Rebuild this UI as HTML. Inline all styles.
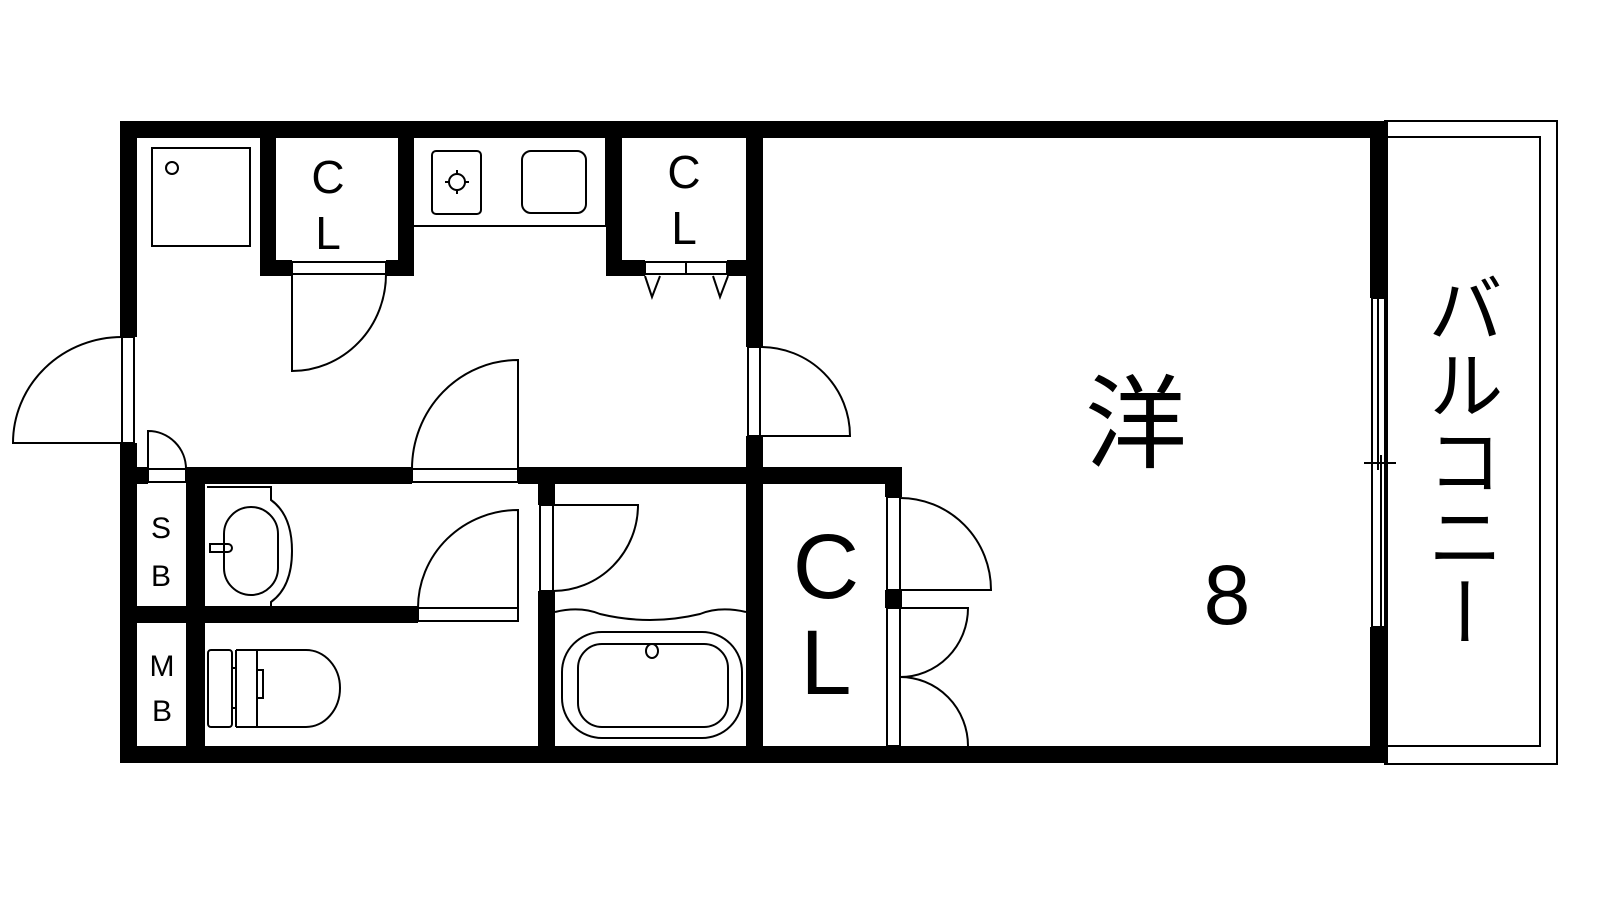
<!DOCTYPE html>
<html><head><meta charset="utf-8"><style>
html,body{margin:0;padding:0;background:#fff;width:1600px;height:900px;overflow:hidden}
svg text{font-family:"Liberation Sans","Noto Sans CJK JP",sans-serif;fill:#000}
</style></head><body>
<svg width="1600" height="900" viewBox="0 0 1600 900" xmlns="http://www.w3.org/2000/svg">
<g fill="none" stroke="#000" stroke-width="2">
<!-- balcony -->
<rect x="1385" y="121" width="172" height="643"/>
<rect x="1387" y="137" width="153" height="609"/>
</g>
<!-- walls -->
<g fill="#000">
<rect x="120" y="121" width="1268" height="17"/>
<rect x="120" y="746" width="1268" height="17"/>
<rect x="120" y="121" width="17" height="216"/>
<rect x="120" y="443" width="17" height="320"/>
<rect x="1370" y="121" width="18" height="177"/>
<rect x="1370" y="627" width="18" height="136"/>
<!-- top-left CL -->
<rect x="260" y="121" width="16" height="155"/>
<rect x="398" y="121" width="16" height="155"/>
<rect x="260" y="260" width="32" height="16"/>
<rect x="386" y="260" width="28" height="16"/>
<!-- right CL -->
<rect x="606" y="121" width="16" height="155"/>
<rect x="606" y="260" width="39" height="16"/>
<rect x="727" y="260" width="36" height="16"/>
<!-- wall to room -->
<rect x="746" y="121" width="17" height="226"/>
<rect x="746" y="436" width="17" height="327"/>
<!-- horizontal wall y467 -->
<rect x="120" y="467" width="28" height="17"/>
<rect x="186" y="467" width="226" height="17"/>
<rect x="518" y="467" width="384" height="17"/>
<rect x="885" y="467" width="17" height="30"/>
<rect x="885" y="590" width="17" height="18"/>
<!-- lower -->
<rect x="186" y="484" width="19" height="262"/>
<rect x="137" y="606" width="281" height="17"/>
<rect x="538" y="484" width="17" height="21"/>
<rect x="538" y="591" width="17" height="155"/>
</g>
<g fill="#fff" stroke="#000" stroke-width="2">
<!-- door frames -->
<rect x="122" y="337" width="12" height="106"/>
<rect x="292" y="262" width="94" height="12"/>
<rect x="645" y="262" width="41" height="12"/>
<rect x="686" y="262" width="41" height="12"/>
<rect x="748" y="347" width="12" height="89"/>
<rect x="148" y="469" width="38" height="13"/>
<rect x="412" y="469" width="106" height="13"/>
<rect x="418" y="608" width="100" height="13"/>
<rect x="540" y="505" width="13" height="86"/>
<rect x="887" y="497" width="13" height="93"/>
<rect x="887" y="608" width="13" height="138"/>
<rect x="1372" y="298" width="13" height="329"/>
</g>
<g fill="none" stroke="#000" stroke-width="2">
<line x1="1378" y1="298" x2="1378" y2="470"/>
<line x1="1381" y1="455" x2="1381" y2="627"/>
<line x1="1364" y1="463" x2="1396" y2="463"/>
<!-- door swings -->
<path d="M122 443 L13 443 A109 106 0 0 1 122 337"/>
<path d="M292 274 L292 371 A94 97 0 0 0 386 274"/>
<path d="M761 436 L850 436 A89 89 0 0 0 761 347"/>
<path d="M148 469 L148 431 A38 38 0 0 1 186 469"/>
<path d="M518 469 L518 360 A106 109 0 0 0 412 469"/>
<path d="M518 608 L518 510 A100 98 0 0 0 418 608"/>
<path d="M553 505 L638 505 A85 86 0 0 1 553 591"/>
<path d="M900 590 L991 590 A91 92 0 0 0 900 498"/>
<path d="M900 608 L968 608 A68 69 0 0 1 900 677 A68 69 0 0 1 968 746"/>
<!-- folding door triangles -->
<path d="M645 276 L652 297 L660 276"/>
<path d="M713 276 L720 297 L728 276"/>
<!-- washer -->
<rect x="152" y="148" width="98" height="98"/>
<circle cx="172" cy="168" r="6"/>
<!-- kitchen -->
<path d="M414 226 L606 226 L606 138"/>
<rect x="432" y="151" width="49" height="63" rx="4"/>
<circle cx="457" cy="182" r="8"/>
<path d="M457 170 v4 M457 190 v4 M445 182 h4 M465 182 h4"/>
<rect x="522" y="151" width="64" height="62" rx="9"/>
<!-- washbasin -->
<path d="M207 487 L271 487 L271 500 Q292 515 292 551 Q292 587 271 602 L271 606"/>
<rect x="224" y="507" width="54" height="88" rx="27"/>
<path d="M210 544 h18 a3.5 3.5 0 0 1 0 8 h-18 z"/>
<!-- toilet -->
<rect x="208" y="650" width="24" height="77" rx="3"/>
<path d="M236 650 v77 M257 650 v77 M236 650 h70 a34 38 0 0 1 34 38 a34 39 0 0 1 -34 39 h-70 M257 670 h6 v28 h-6 M232 668 h4 M232 708 h4"/>
<!-- bath -->
<path d="M555 612 Q580 606 600 614 Q650 626 700 614 Q720 606 746 612"/>
<rect x="562" y="632" width="180" height="106" rx="40"/>
<rect x="578" y="644" width="150" height="83" rx="24"/>
<ellipse cx="652" cy="651" rx="6" ry="7"/>
</g>
<g text-anchor="middle">
<text x="328" y="193" font-size="46">C</text>
<text x="328" y="249" font-size="46">L</text>
<text x="684" y="188" font-size="46">C</text>
<text x="684" y="244" font-size="46">L</text>
<text x="826" y="598" font-size="92">C</text>
<text x="826" y="694" font-size="92">L</text>
<text x="161" y="538" font-size="30">S</text>
<text x="161" y="586" font-size="30">B</text>
<text x="162" y="676" font-size="30">M</text>
<text x="162" y="721" font-size="30">B</text>
<text x="1136" y="460" font-size="102">洋</text>
<text x="1227" y="624" font-size="84">8</text>
<text x="1458" y="270" font-size="76" style="writing-mode:vertical-rl;text-orientation:upright" text-anchor="start">バルコニー</text>
</g>
</svg>
</body></html>
